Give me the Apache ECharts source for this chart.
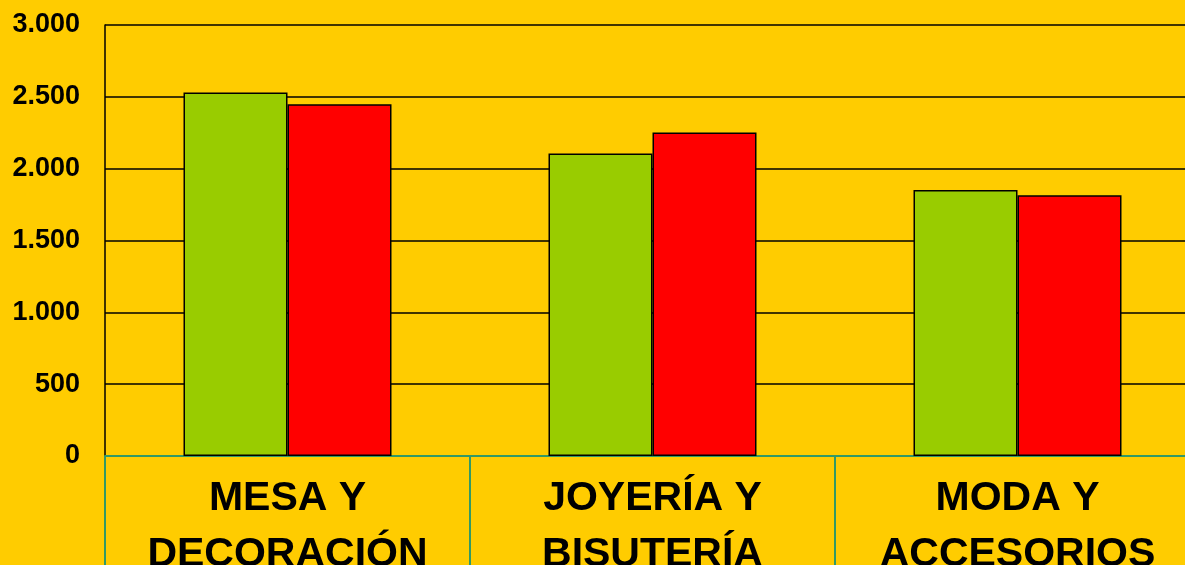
<!DOCTYPE html>
<html>
<head>
<meta charset="utf-8">
<script src="https://cdn.jsdelivr.net/npm/echarts@6/dist/echarts.min.js"></script>
<style>
html, body { margin: 0; padding: 0; background: #FFCC00; }
#chart { width: 1185px; height: 565px; }
</style>
</head>
<body>
<div id="chart"></div>
<script>
// datos
var categorias = ['MESA Y\nDECORACIÓN', 'JOYERÍA Y\nBISUTERÍA', 'MODA Y\nACCESORIOS'];
var serieVerde = [2530, 2105, 1852];
var serieRoja = [2448, 2252, 1815];
var ticksY = [0, 500, 1000, 1500, 2000, 2500, 3000];

var chart = echarts.init(document.getElementById('chart'));

function formatoMiles(v) {
    return String(v).replace(/\B(?=(\d{3})+(?!\d))/g, '.');
}

chart.setOption({
    backgroundColor: '#FFCC00',
    animation: false,
    grid: { left: 105, top: 25, right: -15, bottom: 109, containLabel: false, outerBoundsMode: 'none' },
    xAxis: {
        type: 'category',
        data: categorias,
        axisLine: { lineStyle: { color: '#339966', width: 2 } },
        axisTick: { show: true, length: 130, interval: 0, lineStyle: { color: '#339966', width: 2 } },
        axisLabel: {
            interval: 0,
            margin: 15,
            color: '#000',
            fontFamily: 'Liberation Sans, Arial, sans-serif',
            fontWeight: 'bold',
            fontSize: 41,
            lineHeight: 56
        }
    },
    yAxis: {
        type: 'value',
        min: ticksY[0],
        max: ticksY[ticksY.length - 1],
        interval: 500,
        axisLine: { show: true, lineStyle: { color: '#000', width: 1.5 } },
        axisTick: { show: false },
        splitLine: { show: true, lineStyle: { color: '#000', width: 1.5 } },
        axisLabel: {
            margin: 25,
            color: '#000',
            fontFamily: 'Liberation Sans, Arial, sans-serif',
            fontWeight: 'bold',
            fontSize: 27,
            formatter: formatoMiles
        }
    },
    series: [
        {
            type: 'bar',
            data: serieVerde,
            barWidth: 104,
            barGap: '0%',
            itemStyle: { color: '#99CC00', borderColor: '#000', borderWidth: 1.5 }
        },
        {
            type: 'bar',
            data: serieRoja,
            barWidth: 104,
            itemStyle: { color: '#FF0000', borderColor: '#000', borderWidth: 1.5 }
        }
    ]
});
</script>
</body>
</html>
